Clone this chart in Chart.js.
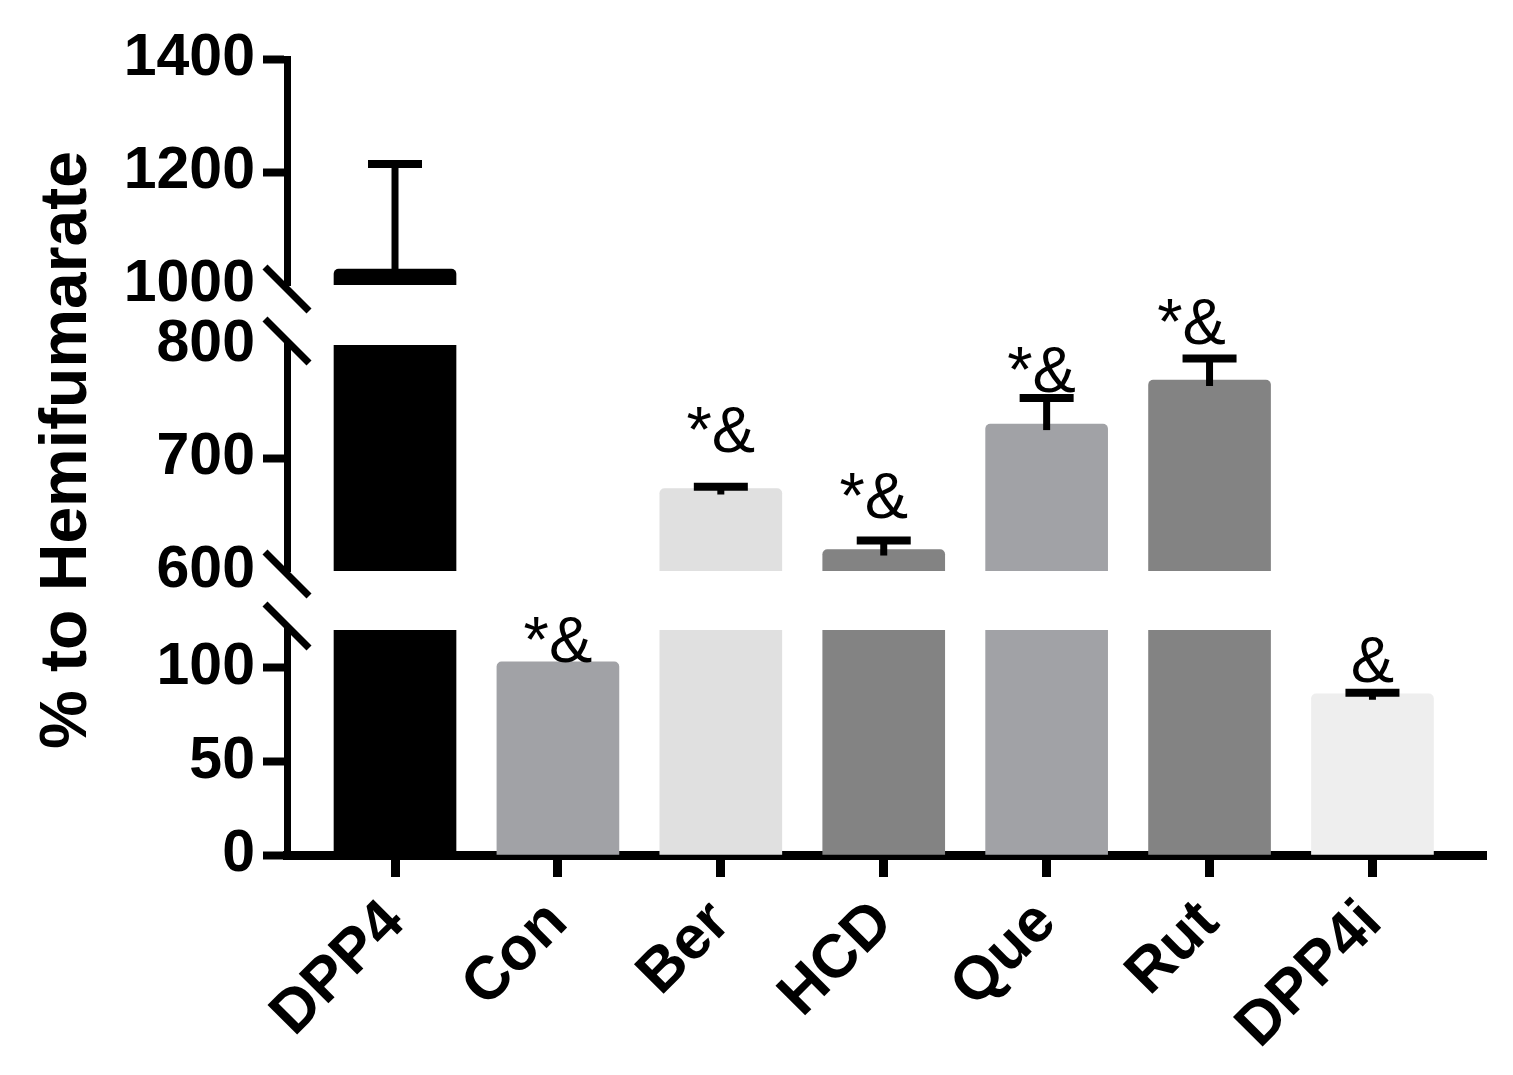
<!DOCTYPE html>
<html>
<head>
<meta charset="utf-8">
<script src="https://cdn.jsdelivr.net/npm/chart.js@4.4.1/dist/chart.umd.min.js"></script>
<style>
  html, body { margin: 0; padding: 0; background: #fff; }
</style>
</head>
<body>
<canvas id="chart" width="1513" height="1075"></canvas>
<script>
// data
const groups = ["DPP4", "Con", "Ber", "HCD", "Que", "Rut", "DPP4i"];
const means = [1028, 103, 673, 619, 730, 769, 86];
const sds = [186, 0, 1.5, 8, 23, 19, 0.5];
const marks = ["", "*&", "*&", "*&", "*&", "*&", "&"];

// y axis is broken in three pieces
const lowTicks = [0, 50, 100];
const lowMax = 120;
const midTicks = [600, 700, 800];
const topTicks = [1000, 1200, 1400];

const barColors = ["#000000", "#a1a2a6", "#e0e0e0", "#838383", "#a1a2a6", "#838383", "#eeeeee"];
const FONT = "'Liberation Sans', Arial, Helvetica, sans-serif";

// text placement above each bar (px)
const markGap = [0, 0, 35, 22, 6, 15, 11];
const markDx = [0, 0, 0, -10, -5, -18, 0];

function chamfer(segMax) {
    return ctx => (ctx.raw && means[ctx.raw.x] <= segMax)
        ? { topLeft: 5, topRight: 5, bottomLeft: 0, bottomRight: 0 }
        : 0;
}

function colorOf(ctx) {
    return ctx.raw ? barColors[ctx.raw.x] : "#000";
}

const barBase = {
    type: "bar",
    grouped: false,
    barThickness: 122,
    borderWidth: 0,
    backgroundColor: colorOf,
    xAxisID: "x"
};

const lowData = means.map((m, i) => ({ x: i, y: Math.min(m, lowMax) }));
const midData = means
    .map((m, i) => ({ x: i, y: [midTicks[0], Math.min(m, midTicks[2])] }))
    .filter(d => means[d.x] > midTicks[0]);
const topData = means
    .map((m, i) => ({ x: i, y: [topTicks[0], Math.min(m, topTicks[2])] }))
    .filter(d => means[d.x] > topTicks[0]);

const hiddenTicks = [topTicks[0], midTicks[0], midTicks[2]];

function yScale(ticks, max, weight, stackWeight) {
    return {
        type: "linear",
        position: "left",
        stack: "y",
        stackWeight: stackWeight,
        weight: weight,
        min: ticks[0],
        max: max,
        grid: {
            drawOnChartArea: false,
            drawTicks: true,
            tickLength: 24,
            tickWidth: 8,
            tickColor: ctx => (ctx.tick && hiddenTicks.includes(ctx.tick.value)) ? "rgba(0,0,0,0)" : "#000"
        },
        border: { display: true, color: "#000", width: 7 },
        ticks: {
            autoSkip: false,
            color: "#000",
            padding: 8,
            font: { family: FONT, size: 59, weight: "bold" },
            callback: v => String(v)
        },
        afterBuildTicks: s => { s.ticks = ticks.map(v => ({ value: v })); },
        afterFit: s => { s.width = 287; }
    };
}

function gapScale(weight, stackWeight) {
    return {
        type: "linear",
        position: "left",
        stack: "y",
        stackWeight: stackWeight,
        weight: weight,
        display: false,
        afterFit: s => { s.width = 287; }
    };
}

function scaleFor(chart, v) {
    if (v > topTicks[0]) return chart.scales.yTop;
    if (v > midTicks[0]) return chart.scales.yMid;
    return chart.scales.yLow;
}

// error bars, the * / & marks, axis break slashes and the y title
const extras = {
    id: "extras",
    afterDraw(chart) {
        const c = chart.ctx;
        const xs = chart.scales.x;
        c.save();
        c.strokeStyle = "#000";
        c.fillStyle = "#000";

        means.forEach((m, i) => {
            const sc = scaleFor(chart, m);
            const cx = xs.getPixelForValue(i);
            const yMean = sc.getPixelForValue(m);
            let yRef = yMean;
            if (sds[i] > 0) {
                const yTopErr = sc.getPixelForValue(m + sds[i]);
                c.lineWidth = 7;
                c.beginPath();
                c.moveTo(cx, yMean + 6);
                c.lineTo(cx, yTopErr);
                c.stroke();
                c.lineWidth = 8;
                c.beginPath();
                c.moveTo(cx - 27, yTopErr);
                c.lineTo(cx + 27, yTopErr);
                c.stroke();
                yRef = yTopErr;
            }
            if (marks[i]) {
                c.font = "65px " + FONT;
                c.textAlign = "center";
                c.textBaseline = "alphabetic";
                c.fillText(marks[i], cx + markDx[i], yRef - markGap[i]);
            }
        });

        // break marks
        const ax = chart.chartArea.left;
        const cuts = [
            chart.scales.yTop.bottom + 4,
            chart.scales.yMid.top - 4,
            chart.scales.yMid.bottom + 3,
            chart.scales.yLow.top - 4
        ];
        c.lineWidth = 7;
        cuts.forEach(cy => {
            c.beginPath();
            c.moveTo(ax - 22, cy - 22);
            c.lineTo(ax + 22, cy + 22);
            c.stroke();
        });

        // y title
        c.translate(68, 450);
        c.rotate(-Math.PI / 2);
        c.font = "bold 66px " + FONT;
        c.textAlign = "center";
        c.textBaseline = "middle";
        c.fillText("% to Hemifumarate", 0, 0);
        c.restore();
    }
};

new Chart(document.getElementById("chart"), {
    type: "bar",
    data: {
        datasets: [
            Object.assign({}, barBase, { label: "low", data: lowData, yAxisID: "yLow", borderRadius: chamfer(lowMax) }),
            Object.assign({}, barBase, { label: "mid", data: midData, yAxisID: "yMid", borderRadius: chamfer(midTicks[2]) }),
            Object.assign({}, barBase, { label: "top", data: topData, yAxisID: "yTop", borderRadius: chamfer(topTicks[2]) })
        ]
    },
    options: {
        responsive: false,
        animation: false,
        devicePixelRatio: 1,
        layout: { padding: { top: 59, right: 27, bottom: 0, left: 0 } },
        plugins: {
            legend: { display: false },
            tooltip: { enabled: false }
        },
        scales: {
            x: {
                type: "linear",
                offset: false,
                min: -0.663,
                max: 6.697,
                grid: { offset: false, drawOnChartArea: false, tickLength: 22, tickWidth: 9, tickColor: "#000" },
                border: { display: true, color: "#000", width: 9 },
                ticks: {
                    autoSkip: false,
                    minRotation: 45,
                    maxRotation: 45,
                    padding: 10,
                    color: "#000",
                    font: { family: FONT, size: 61, weight: "bold" },
                    callback: v => groups[v] || ""
                },
                afterBuildTicks: s => { s.ticks = groups.map((g, i) => ({ value: i })); },
                afterFit: s => { s.height = 220; }
            },
            yTop: yScale(topTicks, topTicks[2], 5, 226),
            gapA: gapScale(4, 60),
            yMid: yScale(midTicks, midTicks[2], 3, 226),
            gapB: gapScale(2, 59),
            yLow: yScale(lowTicks, lowMax, 1, 225)
        }
    },
    plugins: [extras]
});
</script>
</body>
</html>
